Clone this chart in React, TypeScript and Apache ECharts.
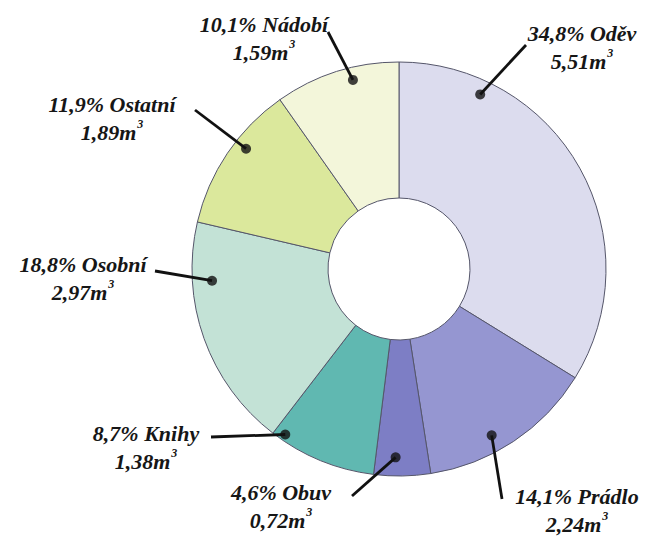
import React, { useEffect, useRef } from 'react';
import * as echarts from 'echarts';

// ---- data ----
const categories = ['Oděv', 'Prádlo', 'Obuv', 'Knihy', 'Osobní', 'Ostatní', 'Nádobí'];
const volumes = [5.51, 2.24, 0.72, 1.38, 2.97, 1.89, 1.59];
const percents = ['34,8%', '14,1%', '4,6%', '8,7%', '18,8%', '11,9%', '10,1%'];

// ---- layout / style ----
const CX = 399;
const CY = 269;
const R_OUT = 207;
const R_IN = 71;
const COLORS = ['#dcdcee', '#9596d1', '#7d7ec5', '#60b8b1', '#c3e2d6', '#dbe89c', '#f3f6da'];
const LABEL_POS = [[582, 47], [577, 510], [281, 506], [146, 447], [83, 278], [112, 118], [264, 38]];
const LINE_END = [[526, 45], [502, 499], [352, 496], [211, 437], [155, 271], [195, 110], [328, 32]];
const DOT_FRAC = [0.205, 0.59, 0.62, 0.9, 0.745, 0.6, 0.61];
const DOT_R = [0.93, 0.92, 0.91, 0.97, 0.905, 0.94, 0.94];

const TOTAL = volumes.reduce((a, b) => a + b, 0);
const starts = volumes.map((_, i) => volumes.slice(0, i).reduce((a, b) => a + b, 0));
const dotAngles = volumes.map((v, i) => starts[i] + DOT_FRAC[i] * v);

function dotPixel(i: number): number[] {
  const th = (dotAngles[i] / TOTAL) * Math.PI * 2;
  const r = DOT_R[i] * R_OUT;
  return [CX + r * Math.sin(th), CY - r * Math.cos(th)];
}

export default function App() {
  const ref = useRef<HTMLDivElement>(null);
  useEffect(() => {
    if (!ref.current) return;
    const chart = echarts.init(ref.current, null, { renderer: 'svg' });
    const font = {
      fontFamily: 'Liberation Serif',
      fontWeight: 'bold' as const,
      fontStyle: 'italic' as const,
      color: '#161616',
    };
    const pieBase = {
      type: 'pie',
      center: [CX, CY],
      radius: [R_IN, R_OUT],
      startAngle: 90,
      clockwise: true,
      avoidLabelOverlap: false,
      silent: true,
    };
    chart.setOption({
      animation: false,
      backgroundColor: '#ffffff',
      polar: { center: [CX, CY], radius: R_OUT },
      angleAxis: { type: 'value', min: 0, max: TOTAL, startAngle: 90, clockwise: true, show: false },
      radiusAxis: { type: 'value', min: 0, max: 1, show: false },
      series: [
        {
          ...pieBase,
          z: 2,
          itemStyle: { borderColor: '#55566a', borderWidth: 1 },
          data: categories.map((c, i) => ({
            name: c,
            value: volumes[i],
            itemStyle: { color: COLORS[i] },
          })),
          label: { show: false },
          labelLine: { show: false },
        },
        {
          ...pieBase,
          z: 5,
          itemStyle: { color: 'rgba(0,0,0,0)', borderWidth: 0 },
          data: categories.map((c, i) => ({ name: c, value: volumes[i] })),
          label: {
            show: true,
            position: 'outside',
            formatter: (p: any) =>
              `{a|${percents[p.dataIndex]} ${categories[p.dataIndex]}}\n{a|${volumes[p.dataIndex]
                .toFixed(2)
                .replace('.', ',')}m}{s|3}`,
            rich: {
              a: { ...font, fontSize: 22, lineHeight: 28 },
              s: { ...font, fontSize: 12, lineHeight: 12, verticalAlign: 'top', padding: [0, 0, 0, 1] },
            },
          },
          labelLine: {
            show: true,
            length: 10,
            length2: 10,
            lineStyle: { color: '#111111', width: 2.8 },
          },
          labelLayout: (params: any) => {
            const i = params.dataIndex;
            return {
              x: LABEL_POS[i][0],
              y: LABEL_POS[i][1],
              align: 'center',
              verticalAlign: 'middle',
              labelLinePoints: [dotPixel(i), LINE_END[i]],
            };
          },
        },
        {
          type: 'scatter',
          coordinateSystem: 'polar',
          symbol: 'circle',
          symbolSize: 10,
          silent: true,
          z: 10,
          itemStyle: { color: '#111111' },
          data: volumes.map((_, i) => [DOT_R[i], dotAngles[i]]),
        },
      ],
    });
    return () => chart.dispose();
  }, []);
  return (
    <div
      ref={ref}
      style={{ position: 'fixed', left: 0, top: 0, width: 645, height: 543, background: '#fff' }}
    />
  );
}
